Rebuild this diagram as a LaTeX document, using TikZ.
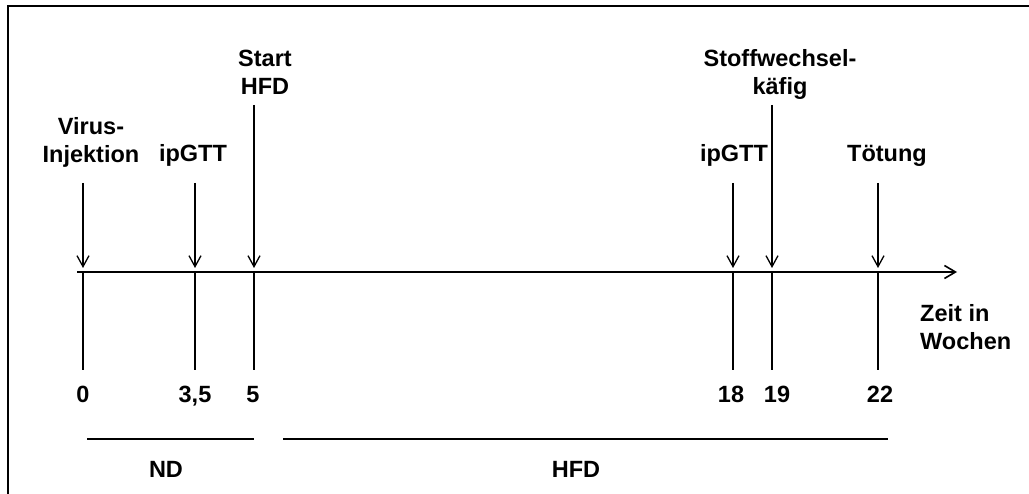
\documentclass[tikz,border=0pt]{standalone}
\usepackage{fontspec}
\setmainfont{Liberation Sans}
\usetikzlibrary{positioning}
\usetikzlibrary{arrows.meta}

\begin{document}
\begin{tikzpicture}[x=1pt, y=-1pt, font=\fontsize{23.5}{28.5}\selectfont\bfseries,
    event/.style={-{Straight Barb[length=11pt,width=12pt,line width=1.3pt]}, line width=1.3pt, shorten >=4pt},
    tick/.style={line width=1.3pt},
    lbl/.style={align=center, inner sep=0pt, anchor=base}]
    \useasboundingbox (0,0) rectangle (1029,494);
    \draw[line width=2pt] (8,520) -- (8,6) -- (1060,6);

    % Zeitachse
    \coordinate (a) at (77,272);
    \coordinate (z) at (957,272);
    \draw[line width=2pt, -{Straight Barb[length=11pt,width=13pt,line width=1.6pt]}] (a) -- (z);

    \coordinate (w0) at (83,272);
    \coordinate (w1) at (195,272);
    \coordinate (w2) at (254,272);
    \coordinate (w3) at (733,272);
    \coordinate (w4) at (772,272);
    \coordinate (w5) at (878,272);

    \coordinate [below=98pt of w0] (b0);
    \coordinate [below=98pt of w1] (b1);
    \coordinate [below=98pt of w2] (b2);
    \coordinate [below=98pt of w3] (b3);
    \coordinate [below=98pt of w4] (b4);
    \coordinate [below=98pt of w5] (b5);

    \coordinate [above=89pt of w0] (s0);
    \coordinate [above=89pt of w1] (s1);
    \coordinate [above=167pt of w2] (s2);
    \coordinate [above=89pt of w3] (s3);
    \coordinate [above=167pt of w4] (s4);
    \coordinate [above=89pt of w5] (s5);

    \draw[tick] (w0) -- (b0);
    \draw[tick] (w1) -- (b1);
    \draw[tick] (w2) -- (b2);
    \draw[tick] (w3) -- (b3);
    \draw[tick] (w4) -- (b4);
    \draw[tick] (w5) -- (b5);

    \draw[event] (s0) -- (w0);
    \draw[event] (s1) -- (w1);
    \draw[event] (s2) -- (w2);
    \draw[event] (s3) -- (w3);
    \draw[event] (s4) -- (w4);
    \draw[event] (s5) -- (w5);

    % Ereignisse
    \node[lbl] (virus) at (91,163) {Virus-\\Injektion};
    \node[lbl] (gtt1) at (193,162) {ipGTT};
    \node[lbl] (start) at (265,95) {Start\\HFD};
    \node[lbl] (gtt2) at (734,162) {ipGTT};
    \node[lbl] (stoff) at (780,95) {Stoffwechsel-\\käfig};
    \node[lbl] (toet) at (887,162) {Tötung};
    \node[lbl, align=left, anchor=base west] (zeit) at (920,350) {Zeit in\\Wochen};

    % Wochen
    \node[lbl] (n0) at (83,403) {0};
    \node[lbl] (n1) at (195,403) {3,5};
    \node[lbl] (n2) at (253,403) {5};
    \node[lbl] (n3) at (731,403) {18};
    \node[lbl] (n4) at (777,403) {19};
    \node[lbl] (n5) at (880,403) {22};

    % Diaet
    \coordinate (nd1) at (87,439);
    \coordinate (nd2) at (254,439);
    \coordinate (hfd1) at (283,439);
    \coordinate (hfd2) at (888,439);
    \draw[tick] (nd1) -- (nd2);
    \draw[tick] (hfd1) -- (hfd2);
    \node[lbl] (nd) at (166,478) {ND};
    \node[lbl] (hfd) at (576,478) {HFD};
\end{tikzpicture}
\end{document}
